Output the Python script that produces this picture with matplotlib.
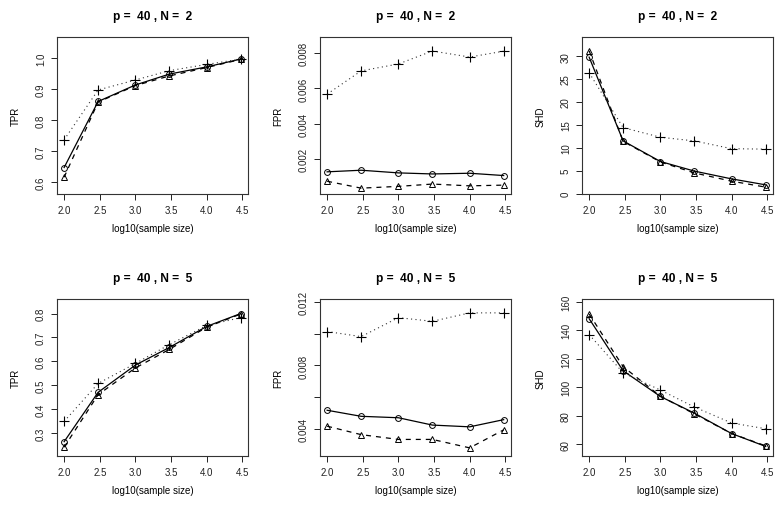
import numpy as np
import matplotlib
matplotlib.use("Agg")
import matplotlib.pyplot as plt

plt.rcParams['font.family'] = ['Liberation Sans', 'DejaVu Sans']

# sample sizes 100 ... 30000 on log10 scale
sizes = [100, 300, 1000, 3000, 10000, 30000]
x = np.log10(sizes)

# p = 40, N = 2
tpr2_circ = [0.648, 0.860, 0.913, 0.948, 0.971, 0.996]
tpr2_tri = [0.617, 0.858, 0.911, 0.942, 0.969, 0.995]
tpr2_plus = [0.737, 0.897, 0.929, 0.959, 0.979, 0.996]

fpr2_circ = [0.00130, 0.00139, 0.00124, 0.00118, 0.00122, 0.00109]
fpr2_tri = [0.00077, 0.00038, 0.00048, 0.00061, 0.00051, 0.00055]
fpr2_plus = [0.00568, 0.00699, 0.00738, 0.00811, 0.00777, 0.00810]

shd2_circ = [29.8, 11.5, 7.0, 4.9, 3.2, 1.9]
shd2_tri = [31.2, 11.4, 6.9, 4.5, 2.7, 1.4]
shd2_plus = [26.4, 14.4, 12.3, 11.5, 9.8, 9.7]

# p = 40, N = 5
tpr5_circ = [0.263, 0.470, 0.584, 0.658, 0.746, 0.800]
tpr5_tri = [0.240, 0.460, 0.572, 0.650, 0.743, 0.798]
tpr5_plus = [0.348, 0.507, 0.591, 0.670, 0.750, 0.783]

fpr5_circ = [0.00519, 0.00481, 0.00472, 0.00426, 0.00415, 0.00460]
fpr5_tri = [0.00419, 0.00366, 0.00336, 0.00336, 0.00283, 0.00396]
fpr5_plus = [0.01013, 0.00981, 0.01100, 0.01077, 0.01130, 0.01130]

shd5_circ = [148.1, 111.6, 93.6, 81.9, 67.6, 58.6]
shd5_tri = [151.4, 114.5, 93.8, 81.4, 67.6, 59.0]
shd5_plus = [137.0, 110.2, 98.1, 86.2, 75.0, 71.0]

panels = [
    (0, 0, "TPR", 2, tpr2_circ, tpr2_tri, tpr2_plus, (0.563, 1.067), np.arange(0.6, 1.01, 0.1), "%.1f"),
    (0, 1, "FPR", 2, fpr2_circ, fpr2_tri, fpr2_plus, (0.00005, 0.0089), [0.002, 0.004, 0.006, 0.008], "%.3f"),
    (0, 2, "SHD", 2, shd2_circ, shd2_tri, shd2_plus, (-0.1, 34.2), np.arange(0, 31, 5), "%d"),
    (1, 0, "TPR", 5, tpr5_circ, tpr5_tri, tpr5_plus, (0.203, 0.861), np.arange(0.3, 0.81, 0.1), "%.1f"),
    (1, 1, "FPR", 5, fpr5_circ, fpr5_tri, fpr5_plus, (0.00232, 0.01217), [0.004, 0.006, 0.008, 0.010, 0.012], "%.3f"),
    (1, 2, "SHD", 5, shd5_circ, shd5_tri, shd5_plus, (51.9, 161.9), np.arange(60, 161, 20), "%d"),
]

W, H = 784, 510
fig = plt.figure(figsize=(W / 100, H / 100), dpi=100)

lefts = [57, 320, 582]
tops = [38, 300]
aw, ah = 191, 157

for row, col, name, N, yc, yt, yp, ylim, yticks, fmt in panels:
    ax = fig.add_axes([lefts[col] / W, 1 - (tops[row] + ah) / H, aw / W, ah / H])
    ax.plot(x, yc, color='black', lw=0.9, ls='-', marker='o', ms=4.2, mfc='none', mew=0.7)
    ax.plot(x, yt, color='black', lw=0.9, ls=(0, (4, 4)), marker='^', ms=4.8, mfc='none', mew=0.7)
    ax.plot(x, yp, color='#333333', lw=0.8, ls=(0, (1, 3)), marker='+', ms=7, mew=0.8, mec='black')
    ax.set_xlim(1.9, 4.58)
    ax.set_ylim(*ylim)
    ax.set_xticks([2.0, 2.5, 3.0, 3.5, 4.0, 4.5])
    ax.set_xticklabels(["2.0", "2.5", "3.0", "3.5", "4.0", "4.5"])
    ax.set_yticks(yticks)
    labels = [fmt % v for v in yticks]
    if name == "FPR" and N == 5:
        labels = [l if i % 2 == 0 else "" for i, l in enumerate(labels)]
    ax.set_yticklabels(labels, rotation=90, va='center')
    ax.tick_params(direction='out', length=4, width=0.7, labelsize=7, pad=4, colors='#222222')
    for s in ax.spines.values():
        s.set_linewidth(0.8)
        s.set_color('#333333')
    ax.set_xlabel("log10(sample size)", fontsize=7, labelpad=6)
    ax.set_ylabel(name, fontsize=7)
    # R puts ylab at a fixed distance from the axis
    ax.yaxis.set_label_coords(-0.19, 0.5)
    ax.set_title("p =  40 , N =  %d" % N, fontsize=8.6, fontweight='bold', pad=13)

fig.savefig("out.png", dpi=100)
